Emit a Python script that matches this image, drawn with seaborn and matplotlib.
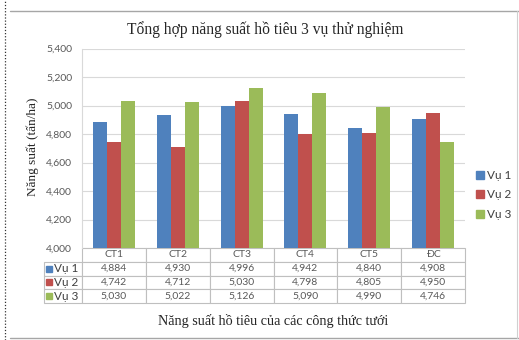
import matplotlib
matplotlib.use("Agg")
import matplotlib.pyplot as plt
from matplotlib.lines import Line2D
from matplotlib.ticker import FuncFormatter
import seaborn as sns
import pandas as pd

# Yield data (tấn/ha) for the irrigation formulas over three seasons
categories = ["CT1", "CT2", "CT3", "CT4", "CT5", "ĐC"]
series_names = ["Vụ 1", "Vụ 2", "Vụ 3"]
vu1 = [4884, 4930, 4996, 4942, 4840, 4908]
vu2 = [4742, 4712, 5030, 4798, 4805, 4950]
vu3 = [5030, 5022, 5126, 5090, 4990, 4746]
yticks = [4000, 4200, 4400, 4600, 4800, 5000, 5200, 5400]

colors = ["#4F81BD", "#C0504D", "#9BBB59"]
text_gray = "#595959"
grid_gray = "#D9D9D9"

rows = []
for name, vals in zip(series_names, [vu1, vu2, vu3]):
    for c, v in zip(categories, vals):
        rows.append({"cat": c, "series": name, "value": v})
df = pd.DataFrame(rows)

sns.set_theme(style="white")
plt.rcParams["font.family"] = ["Lato", "DejaVu Sans"]

W, H = 519, 340
fig = plt.figure(figsize=(W / 100, H / 100), dpi=100)
fig.patch.set_facecolor("white")

x0, x1 = 82, 465
y_top, y_bot = 48.5, 248
ax = fig.add_axes([x0 / W, 1 - y_bot / H, (x1 - x0) / W, (y_bot - y_top) / H])

sns.barplot(data=df, x="cat", y="value", hue="series", order=categories,
            hue_order=series_names, palette=colors, width=0.66,
            saturation=1, ax=ax, legend=False, linewidth=0)

ax.set_ylim(4000, 5400)
ax.set_xlim(-0.5, len(categories) - 0.5)
ax.set_yticks(yticks)
ax.yaxis.set_major_formatter(FuncFormatter(lambda v, p: f"{int(v):,}"))
ax.tick_params(axis="y", labelsize=7.5, colors=text_gray, length=0, pad=7)
ax.set_xticks([])
ax.set_xlabel("")
ax.set_ylabel("")
ax.grid(axis="y", color=grid_gray, linewidth=0.8)
ax.set_axisbelow(True)
for side in ["top", "right", "bottom"]:
    ax.spines[side].set_visible(False)
ax.spines["left"].set_color(grid_gray)
ax.spines["left"].set_linewidth(0.8)

# Data table beneath the bars
cell_text = [[""] + categories]
for vals in [vu1, vu2, vu3]:
    cell_text.append([""] + [f"{v:,}" for v in vals])
ax_h = y_bot - y_top
tbl_left, tbl_right, tbl_bottom = 44, 465, 303
bbox = [(tbl_left - x0) / (x1 - x0), -(tbl_bottom - y_bot) / ax_h,
        (tbl_right - tbl_left) / (x1 - x0), (tbl_bottom - y_bot) / ax_h]
lab_w = (x0 - tbl_left) / (tbl_right - tbl_left)
col_w = (1 - lab_w) / len(categories)
tbl = ax.table(cellText=cell_text, cellLoc="center", bbox=bbox,
               colWidths=[lab_w] + [col_w] * len(categories))
tbl.auto_set_font_size(False)
for (r, c), cell in tbl.get_celld().items():
    cell.set_edgecolor("#BFBFBF")
    cell.set_linewidth(0.8)
    cell.get_text().set_fontsize(7.5)
    cell.get_text().set_color(text_gray)
    if r == 0 and c == 0:
        cell.visible_edges = ""

# Row labels with coloured keys
row_h = (tbl_bottom - y_bot) / 4
for i, (col, name) in enumerate(zip(colors, series_names)):
    yc = y_bot + row_h * (i + 1.5)
    fig.add_artist(Line2D([49 / W], [1 - yc / H], marker="s", markersize=4.5,
                          color=col, linestyle="none", transform=fig.transFigure))
    fig.text(54 / W, 1 - yc / H, name, ha="left", va="center",
             fontsize=8.5, color="#404040")

# Legend on the right
handles = [Line2D([], [], marker="s", markersize=5.5, color=c, linestyle="none")
           for c in colors]
fig.legend(handles, series_names, loc="center left",
           bbox_to_anchor=(475 / W, 1 - 195 / H), frameon=False,
           fontsize=8.5, handletextpad=0.2, labelspacing=0.75,
           labelcolor="#404040", handlelength=0.8, borderpad=0,
           borderaxespad=0)

# Titles
serif = ["Liberation Serif", "DejaVu Serif"]
fig.text(265 / W, 1 - 30 / H, "Tổng hợp năng suất hồ tiêu 3 vụ thử nghiệm",
         ha="center", va="center", fontsize=11.2, family=serif, color="#262626")
fig.text(273 / W, 1 - 321 / H, "Năng suất hồ tiêu của các công thức tưới",
         ha="center", va="center", fontsize=10.2, family=serif, color="#262626")
fig.text(33 / W, 1 - 147 / H, "Năng suất (tấn/ha)", rotation=90,
         ha="center", va="center", fontsize=9.5, family=serif, color="#262626")

# Chart area frame
fig.add_artist(Line2D([10 / W, 1], [1 - 11 / H, 1 - 11 / H], color="#A6A6A6",
                      linewidth=1.0, transform=fig.transFigure))
fig.add_artist(Line2D([10 / W, 1], [1 - 338 / H, 1 - 338 / H], color="#A6A6A6",
                      linewidth=1.0, transform=fig.transFigure))
fig.add_artist(Line2D([517 / W, 517 / W], [1 - 11 / H, 1 - 338 / H], color="#D0D0D0",
                      linewidth=0.8, transform=fig.transFigure))
fig.add_artist(Line2D([5 / W, 5 / W], [0, 1], color="#333333", linewidth=0.9,
                      linestyle=(0, (1, 1.5)), transform=fig.transFigure))

fig.savefig("out.png", dpi=100, facecolor="white")
